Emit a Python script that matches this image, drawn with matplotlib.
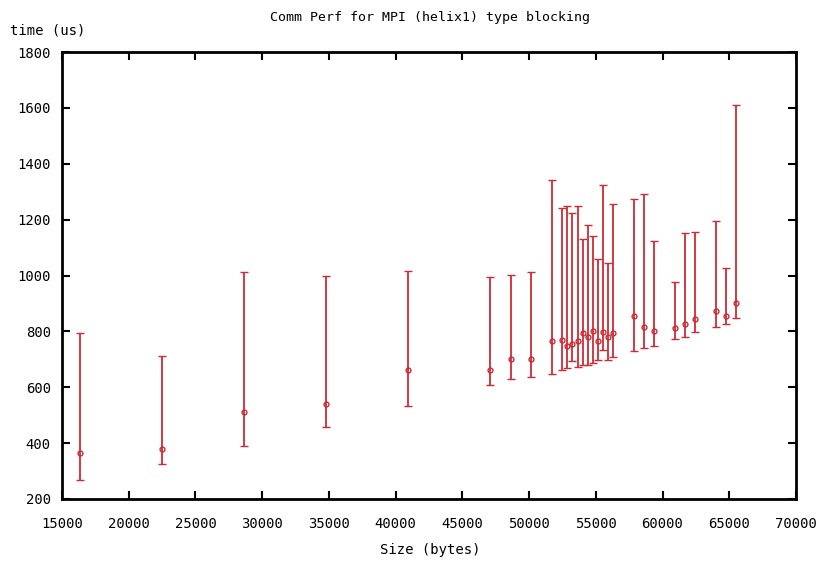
import numpy as np
import matplotlib
matplotlib.use("Agg")
import matplotlib.pyplot as plt

# Message sizes (bytes) and timing statistics (microseconds)
sizes = [16384, 22528, 28672, 34816, 40960, 47104, 48640, 50176,
         51712, 52480, 52864, 53248, 53632, 54016, 54400, 54784,
         55168, 55552, 55936, 56320, 57856, 58624, 59392,
         60928, 61696, 62464, 64000, 64768, 65536]
mean_time = [365, 378, 513, 541, 663, 662, 700, 700,
             766, 770, 748, 756, 766, 793, 780, 803,
             766, 799, 780, 795, 854, 817, 803,
             812, 827, 845, 873, 855, 901]
min_time = [268, 327, 388, 458, 532, 607, 631, 635,
            649, 663, 668, 695, 672, 681, 681, 686,
            699, 733, 699, 709, 729, 741, 747,
            774, 779, 799, 817, 827, 849]
max_time = [794, 713, 1012, 998, 1015, 993, 1003, 1012,
            1342, 1241, 1249, 1223, 1249, 1130, 1180, 1142,
            1059, 1325, 1045, 1255, 1273, 1293, 1124,
            975, 1152, 1157, 1195, 1027, 1610]

x_ticks = [15000, 20000, 25000, 30000, 35000, 40000, 45000,
           50000, 55000, 60000, 65000, 70000]
y_ticks = [200, 400, 600, 800, 1000, 1200, 1400, 1600, 1800]

plt.rcParams['font.family'] = ['DejaVu Sans Mono']

fig = plt.figure(figsize=(8.19, 5.69), dpi=100)
ax = fig.add_axes([62 / 819, 1 - 499 / 569, (796 - 62) / 819, (499 - 52) / 569])

mean = np.array(mean_time)
err = [mean - np.array(min_time), np.array(max_time) - mean]
red = '#d02a34'
ax.errorbar(sizes, mean, yerr=err, fmt='o', color=red, ecolor=red,
            elinewidth=1.3, capsize=3, capthick=1.3,
            markersize=3.5, markerfacecolor='none', markeredgewidth=1.0)

ax.set_xlim(15000, 70000)
ax.set_ylim(200, 1800)
ax.set_xticks(x_ticks)
ax.set_yticks(y_ticks)
ax.tick_params(direction='in', length=6, width=1.5, top=True, right=True,
               labelsize=10, colors='black')
ax.tick_params(axis='x', pad=13)
ax.tick_params(axis='y', pad=8)
for s in ax.spines.values():
    s.set_linewidth(2)
    s.set_color('black')

fig.text(430 / 819, 1 - 18 / 569, 'Comm Perf for MPI (helix1) type blocking',
         ha='center', va='center', fontsize=9.5)
fig.text(10 / 819, 1 - 30 / 569, 'time (us)', ha='left', va='center', fontsize=10)
fig.text(430 / 819, 1 - 550 / 569, 'Size (bytes)', ha='center', va='center',
         fontsize=10)

fig.savefig('out.png', dpi=100)
